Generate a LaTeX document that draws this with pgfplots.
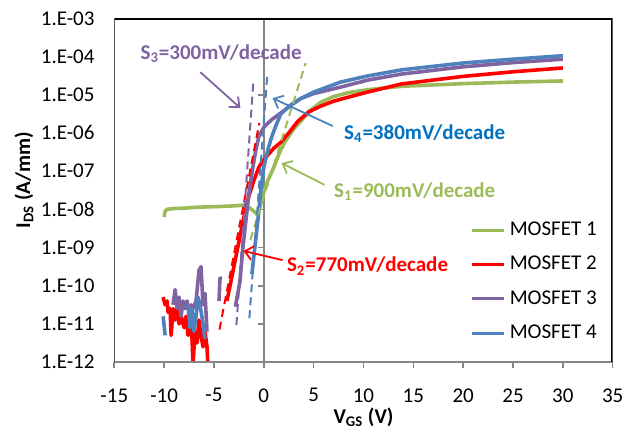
\documentclass[border=0pt]{standalone}
\usepackage{fontspec}
\setmainfont{Carlito}
\usepackage{pgfplots}
\pgfplotsset{compat=1.18}
\usetikzlibrary{arrows.meta}

\definecolor{mgreen}{HTML}{9BBB59}
\definecolor{mred}{HTML}{FF0000}
\definecolor{mpurple}{HTML}{8064A2}
\definecolor{mblue}{HTML}{4F81BD}
\definecolor{tblue}{HTML}{0070C0}
\definecolor{axgray}{HTML}{868686}

\begin{document}
\begin{tikzpicture}
\begin{axis}[
    at={(0,0)}, anchor=south west,
    width=249.2pt, height=171.9pt, scale only axis,
    xmin=-15, xmax=35,
    ymode=log, ymin=1e-12, ymax=1e-3,
    xtick={-15,-10,-5,0,5,10,15,20,25,30,35},
    xticklabels={-15,-10,-5,0,5,10,15,20,25,30,35},
    ytick={1e-12,1e-11,1e-10,1e-9,1e-8,1e-7,1e-6,1e-5,1e-4,1e-3},
    yticklabels={1.E-12,1.E-11,1.E-10,1.E-09,1.E-08,1.E-07,1.E-06,1.E-05,1.E-04,1.E-03},
    yminorticks=false,
    axis line style={draw=none},
    xtick pos=bottom,
    xtick align=outside,
    ytick align=inside,
    major tick length=3pt,
    xtick style={draw=axgray, line width=0.8pt},
    ytick style={draw=none},
    tick label style={font=\fontsize{10.5}{12}\selectfont, inner sep=0pt},
    xticklabel style={anchor=north, yshift=-10pt},
    yticklabel style={anchor=east, xshift=-9.7pt},
    xlabel={\textbf{V\textsubscript{GS} (V)}},
    ylabel={\textbf{I\textsubscript{DS} (A/mm)}},
    label style={font=\fontsize{10.5}{12}\selectfont},
    x label style={at={(axis description cs:0.5,-0.178)}, anchor=base},
    y label style={at={(axis description cs:-0.169,0.529)}, anchor=base, rotate=0},
    unbounded coords=jump,
    legend style={at={(axis description cs:0.714,0.42)}, anchor=north west,
        draw=none, fill=none, font=\fontsize{10.5}{12}\selectfont,
        row sep=4.8pt, inner sep=0pt, cells={anchor=west}},
    legend image code/.code={\draw[#1, line width=1.6pt, solid] (0pt,0pt) -- (16pt,0pt);},
    every axis plot/.append style={line width=1.8pt, line join=round},
]
% vertical axis at V=0
\draw[axgray, line width=1pt] (axis cs:0,1e-12) -- (axis cs:0,1e-3);
\pgfplotsinvokeforeach{4,5,...,12}{\draw[axgray, line width=0.8pt] (axis cs:0,1e-#1) -- ++(-3pt,0pt);}

\addplot[mgreen] coordinates {
(-10.0,6.31e-9) (-9.9,8.91e-9) (-9.7,1.00e-8) (-9.0,1.05e-8) (-8.0,1.07e-8)
(-7.0,1.12e-8) (-6.0,1.15e-8) (-5.0,1.17e-8) (-4.0,1.20e-8) (-3.0,1.23e-8)
(-2.0,1.29e-8) (-1.5,1.12e-8) (-1.0,8.91e-9) (-0.6,7.08e-9) (-0.3,1.41e-8)
(0.0,2.82e-8) (0.4,5.62e-8) (1.0,1.26e-7) (1.6,3.16e-7) (2.2,6.31e-7)
(3.0,1.26e-6) (3.7,2.00e-6) (4.5,3.55e-6) (5.7,6.31e-6) (7.0,8.91e-6)
(8.4,1.12e-5) (10.4,1.35e-5) (13.8,1.66e-5) (20,1.95e-5) (25,2.14e-5) (30,2.29e-5)
};
\addlegendentry{MOSFET 1}

\addplot[mred] coordinates {
(-10.1,5.01e-11) (-9.9,3.16e-11) (-9.7,3.98e-11) (-9.6,2.00e-11) (-9.4,2.51e-11)
(-9.3,5.01e-12) (-9.1,2.51e-11) (-8.9,1.26e-11) (-8.7,2.51e-11) (-8.5,1.00e-11)
(-8.3,1.58e-11) (-8.0,7.94e-12) (-7.8,1.58e-11) (-7.6,5.01e-12) (-7.4,1.26e-11)
(-7.2,3.98e-12) (-7.1,9.0e-13) (-6.9,6.31e-12) (-6.7,3.16e-12) (-6.5,1.26e-11)
(-6.3,5.01e-12) (-6.1,2.51e-12) (-5.9,6.31e-12) (-5.7,2.51e-12) (-5.6,8.0e-13)
(-4.6,nan)
(-3.7,3.98e-11) (-3.0,3.16e-10) (-2.5,1.41e-9) (-2.0,6.31e-9) (-1.5,2.24e-8)
(-1.0,5.62e-8) (-0.5,1.26e-7) (0.0,2.00e-7) (0.5,2.82e-7) (1.0,3.98e-7)
(1.7,5.62e-7) (2.5,1.00e-6) (3.4,2.00e-6) (4.5,3.55e-6) (5.7,5.01e-6)
(7.0,6.76e-6) (8.4,8.51e-6) (10.4,1.17e-5) (13.8,1.91e-5) (20,3.02e-5)
(25,3.98e-5) (30,5.01e-5)
};
\addlegendentry{MOSFET 2}

\addplot[mpurple] coordinates {
(-9.1,3.16e-11) (-8.9,7.94e-11) (-8.7,2.51e-11) (-8.5,5.01e-11) (-8.3,1.58e-11)
(-8.1,3.98e-11) (-7.9,2.51e-11) (-7.7,3.98e-11) (-7.5,2.00e-11) (-7.3,3.16e-11)
(-7.1,2.51e-11) (-6.8,3.98e-11) (-6.5,2.51e-10) (-6.3,3.16e-10) (-6.1,3.16e-11)
(-5.9,6.31e-11) (-5.7,6.31e-12)
(-5.0,nan)
(-4.5,3.98e-11) (-4.4,1.58e-10) (-4.2,1.58e-10)
(-3.5,nan)
(-2.85,2.82e-11) (-2.4,1.26e-10) (-2.1,1.00e-9) (-1.8,5.01e-9) (-1.5,2.51e-8)
(-1.1,1.26e-7) (-0.8,3.55e-7) (-0.5,7.94e-7) (0.0,1.41e-6) (0.8,2.24e-6)
(1.7,3.31e-6) (2.7,5.25e-6) (3.7,7.94e-6) (5.0,1.07e-5) (7.7,1.58e-5)
(10.4,2.40e-5) (13.8,3.47e-5) (20,5.37e-5) (25,6.92e-5) (30,8.51e-5)
};
\addlegendentry{MOSFET 3}

\addplot[mblue] coordinates {
(-10.1,1.58e-11) (-9.9,5.01e-12)
(-9.0,nan)
(-7.6,3.16e-11) (-7.4,7.94e-12) (-7.2,2.51e-11) (-7.0,6.31e-12) (-6.8,1.58e-11)
(-6.6,5.01e-11) (-6.4,3.16e-11) (-6.1,1.00e-11) (-5.9,3.98e-12)
(-3.0,nan)
(-1.2,2.00e-10) (-0.9,1.00e-9) (-0.6,5.01e-9) (-0.3,3.16e-8) (0.0,1.26e-7)
(0.4,3.55e-7) (0.7,6.61e-7) (1.0,1.12e-6) (1.7,3.16e-6) (2.7,5.37e-6)
(3.7,7.94e-6) (5.0,1.17e-5) (7.7,2.14e-5) (10.4,3.09e-5) (13.8,4.47e-5)
(20,6.76e-5) (25,8.51e-5) (30,1.05e-4)
};
\addlegendentry{MOSFET 4}

% subthreshold slope fits
\addplot[mgreen, line width=1pt, dash pattern=on 4pt off 2.5pt, forget plot] coordinates {(-1.35,1.58e-9) (4.2,6.76e-5)};
\addplot[mred, line width=1pt, dash pattern=on 4pt off 2.5pt, forget plot] coordinates {(-4.45,7.08e-12) (-0.45,1.82e-6)};
\addplot[mpurple, line width=1pt, dash pattern=on 4pt off 2.5pt, forget plot] coordinates {(-2.75,9.33e-12) (-1.04,2.40e-5)};
\addplot[mblue, line width=1pt, dash pattern=on 4pt off 2.5pt, forget plot] coordinates {(-1.45,1.41e-11) (0.37,3.98e-5)};

% annotations
\draw[mpurple, line width=0.9pt, -{Straight Barb[length=4pt,width=7pt]}] (axis cs:-6.37,3.89e-5) -- (axis cs:-2.35,4.47e-6);
\draw[mblue, line width=0.9pt, -{Straight Barb[length=4pt,width=7pt]}] (axis cs:6.92,1.51e-6) -- (axis cs:0.88,8.13e-6);
\draw[mgreen, line width=0.9pt, -{Straight Barb[length=4pt,width=7pt]}] (axis cs:6.1,4.37e-8) -- (axis cs:1.78,1.62e-7);
\draw[mred, line width=0.9pt, -{Straight Barb[length=4pt,width=7pt]}] (axis cs:1.88,4.68e-10) -- (axis cs:-2.04,8.13e-10);

\node[anchor=base west, inner sep=0pt, text=mpurple, font=\fontsize{10.5}{12}\selectfont\bfseries] at (axis cs:-12.4,8.59e-5) {S\textsubscript{3}=300mV/decade};
\node[anchor=base west, inner sep=0pt, text=tblue, font=\fontsize{10.5}{12}\selectfont\bfseries] at (axis cs:8.02,6.92e-7) {S\textsubscript{4}=380mV/decade};
\node[anchor=base west, inner sep=0pt, text=mgreen, font=\fontsize{10.5}{12}\selectfont\bfseries] at (axis cs:7.02,2.09e-8) {S\textsubscript{1}=900mV/decade};
\node[anchor=base west, inner sep=0pt, text=mred, font=\fontsize{10.5}{12}\selectfont\bfseries] at (axis cs:2.29,2.29e-10) {S\textsubscript{2}=770mV/decade};

% frame
\draw[axgray, line width=1pt] (rel axis cs:0,0) -- (rel axis cs:1,0);
\draw[black, line width=1.2pt] (rel axis cs:0,0) -- (rel axis cs:0,1) -- (rel axis cs:1,1) -- (rel axis cs:1,0);
\end{axis}
\pgfresetboundingbox
\path (-57.15pt,-33.95pt) rectangle (257.35pt,181.05pt);
\end{tikzpicture}
\end{document}
